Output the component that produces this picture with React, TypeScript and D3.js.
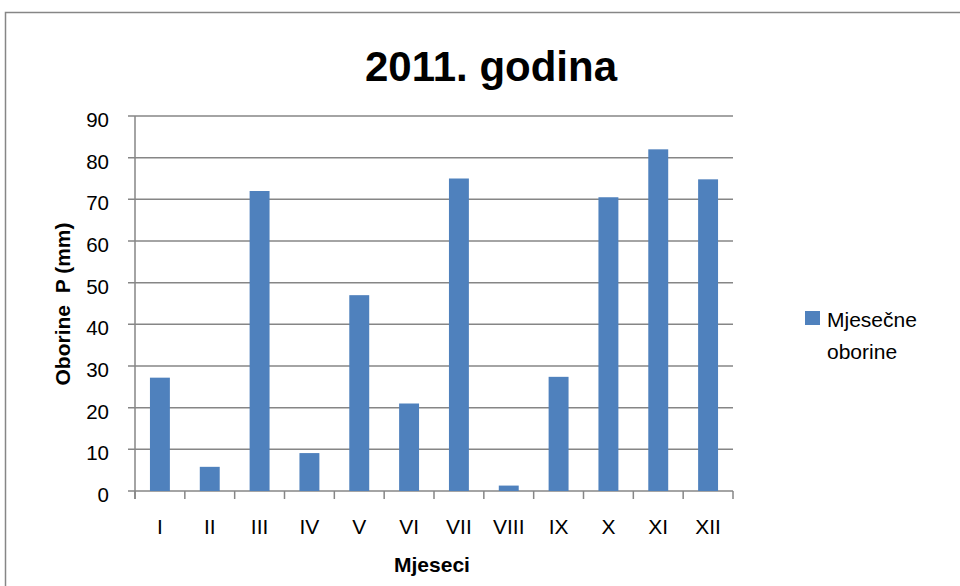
import React from "react";
import * as d3 from "d3";

const months = ["I", "II", "III", "IV", "V", "VI", "VII", "VIII", "IX", "X", "XI", "XII"];
const precipitation = [27.2, 5.8, 72, 9.1, 47, 21, 75, 1.3, 27.4, 70.5, 82, 74.8];
const yTicks = [0, 10, 20, 30, 40, 50, 60, 70, 80, 90];
const title = "2011. godina";
const yTitle = "Oborine  P (mm)";
const xTitle = "Mjeseci";
const legendLines = ["Mjesečne", "oborine"];

const W = 960;
const H = 586;
const plot = { left: 135, right: 733, top: 116, bottom: 491 };
const grid = "#868686";
const barColor = "#4F81BD";
const font = "'Liberation Sans', Arial, sans-serif";

export default function App() {
  const x = d3
    .scaleBand<string>()
    .domain(months)
    .range([plot.left, plot.right])
    .paddingInner(0.6)
    .paddingOuter(0.3);
  const y = d3.scaleLinear().domain([0, 90]).range([plot.bottom, plot.top]);
  const step = x.step();
  const boundaries = d3.range(months.length + 1).map((i) => plot.left + i * step);

  return (
    <svg
      width={W}
      height={H}
      style={{ position: "absolute", left: 0, top: 0, display: "block", background: "#fff" }}
      fontFamily={font}
    >
      <rect x={5.5} y={12.5} width={W + 20} height={H + 20} fill="#fff" stroke={grid} strokeWidth={1.5} />
      <text x={491} y={81} textAnchor="middle" fontSize={42} fontWeight="bold" fill="#000">
        {title}
      </text>
      {yTicks.map((t) => (
        <g key={t}>
          <line x1={plot.left - 7} x2={plot.right} y1={y(t)} y2={y(t)} stroke={grid} strokeWidth={1.5} />
          <text x={109} y={y(t) + 11} textAnchor="end" fontSize={20.5} fill="#000">
            {t}
          </text>
        </g>
      ))}
      <line x1={plot.left} x2={plot.left} y1={plot.top} y2={plot.bottom + 8} stroke={grid} strokeWidth={1.5} />
      {boundaries.map((b, i) => (
        <line key={i} x1={b} x2={b} y1={plot.bottom} y2={plot.bottom + 8} stroke={grid} strokeWidth={1.5} />
      ))}
      {months.map((m, i) => (
        <g key={m}>
          <rect
            x={x(m)}
            y={y(precipitation[i])}
            width={x.bandwidth()}
            height={plot.bottom - y(precipitation[i])}
            fill={barColor}
          />
          <text x={(x(m) as number) + x.bandwidth() / 2} y={534} textAnchor="middle" fontSize={21} fill="#000">
            {m}
          </text>
        </g>
      ))}
      <text
        transform={`translate(70,304) rotate(-90)`}
        textAnchor="middle"
        fontSize={21}
        fontWeight="bold"
        fill="#000"
        style={{ whiteSpace: "pre" }}
      >
        {yTitle}
      </text>
      <text x={432} y={572} textAnchor="middle" fontSize={21} fontWeight="bold" fill="#000">
        {xTitle}
      </text>
      <rect x={805} y={311} width={15} height={14} fill={barColor} />
      {legendLines.map((l, i) => (
        <text key={l} x={827} y={327 + i * 32} fontSize={21} fill="#000">
          {l}
        </text>
      ))}
    </svg>
  );
}
